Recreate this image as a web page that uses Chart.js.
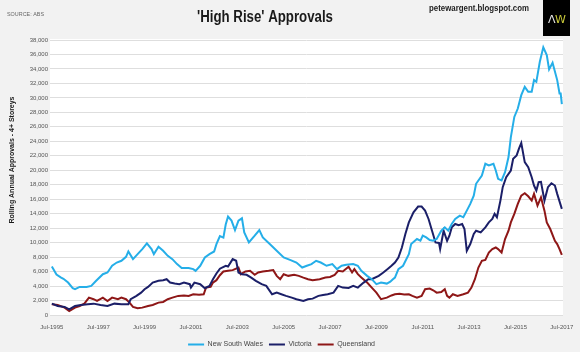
<!DOCTYPE html>
<html>
<head>
<meta charset="utf-8">
<script src="https://cdn.jsdelivr.net/npm/chart.js@4"></script>
<style>
  html, body { margin: 0; padding: 0; background: #f2f2f2; }
  #wrap { width: 580px; height: 352px; }
</style>
</head>
<body>
<div id="wrap"><canvas id="grafikas" width="580" height="352"></canvas></div>
<script>
// Duomenys nuskaityti nuo paveiksliuko (metai kaip dešimtainė trupmena)
const nswYears = [1995.5, 1995.7, 1995.9, 1996.0, 1996.2, 1996.4, 1996.5, 1996.7, 1997.0, 1997.2, 1997.4, 1997.7, 1997.9, 1998.1, 1998.3, 1998.5, 1998.7, 1998.8, 1999.0, 1999.2, 1999.4, 1999.6, 1999.8, 1999.9, 2000.1, 2000.3, 2000.5, 2000.7, 2000.9, 2001.1, 2001.4, 2001.6, 2001.7, 2001.9, 2002.1, 2002.3, 2002.5, 2002.6, 2002.75, 2002.9, 2003.0, 2003.1, 2003.25, 2003.4, 2003.55, 2003.7, 2003.8, 2004.0, 2004.25, 2004.45, 2004.6, 2004.9, 2005.2, 2005.5, 2005.8, 2006.05, 2006.3, 2006.5, 2006.7, 2006.9, 2007.1, 2007.35, 2007.6, 2007.8, 2008.0, 2008.2, 2008.5, 2008.7, 2008.85, 2009.1, 2009.3, 2009.5, 2009.7, 2009.95, 2010.1, 2010.2, 2010.3, 2010.45, 2010.65, 2010.9, 2011.0, 2011.25, 2011.4, 2011.5, 2011.65, 2011.8, 2011.95, 2012.1, 2012.3, 2012.45, 2012.6, 2012.75, 2012.9, 2013.1, 2013.25, 2013.4, 2013.55, 2013.7, 2013.8, 2014.05, 2014.2, 2014.35, 2014.55, 2014.65, 2014.75, 2014.9, 2015.05, 2015.2, 2015.3, 2015.45, 2015.6, 2015.75, 2015.9, 2016.05, 2016.2, 2016.3, 2016.4, 2016.55, 2016.7, 2016.85, 2016.95, 2017.1, 2017.3, 2017.4, 2017.45, 2017.5];
const nswValues = [6700, 5600, 5170, 5000, 4480, 3700, 3560, 3880, 3880, 4020, 4700, 5640, 5870, 6800, 7250, 7490, 8040, 8780, 7720, 8410, 9110, 9890, 9110, 8410, 9430, 8880, 8180, 7720, 7030, 6480, 6480, 6340, 6100, 6800, 7950, 8410, 8780, 9800, 10900, 10700, 12500, 13590, 13040, 11740, 13040, 13360, 11410, 10030, 10960, 11740, 10720, 9800, 8880, 7950, 7590, 7250, 6560, 6800, 7030, 7490, 7250, 6800, 7030, 6340, 6800, 6930, 7030, 6800, 6100, 5410, 4950, 4260, 4480, 4340, 4600, 4900, 5170, 6340, 6800, 8410, 9800, 10500, 10260, 10960, 10720, 10360, 10260, 10500, 11650, 12110, 11650, 12580, 13270, 13730, 13500, 14420, 15350, 16500, 18130, 19280, 20900, 20670, 20900, 19970, 18820, 18590, 19740, 21820, 24590, 27370, 28530, 30380, 31530, 30840, 30840, 32460, 32220, 34990, 36990, 35920, 33940, 34860, 32460, 30610, 30600, 29130];

const vicYears = [1995.5, 1995.75, 1996.05, 1996.25, 1996.5, 1996.75, 1997.05, 1997.3, 1997.6, 1997.9, 1998.2, 1998.5, 1998.8, 1998.9, 1999.15, 1999.35, 1999.5, 1999.65, 1999.85, 2000.1, 2000.3, 2000.45, 2000.6, 2000.8, 2001.0, 2001.2, 2001.45, 2001.5, 2001.65, 2001.9, 2002.1, 2002.3, 2002.45, 2002.6, 2002.75, 2003.0, 2003.1, 2003.3, 2003.45, 2003.55, 2003.7, 2003.9, 2004.1, 2004.3, 2004.55, 2004.75, 2005.0, 2005.2, 2005.4, 2005.6, 2005.85, 2006.05, 2006.35, 2006.55, 2006.75, 2007.0, 2007.2, 2007.4, 2007.65, 2007.85, 2008.05, 2008.3, 2008.5, 2008.7, 2008.95, 2009.15, 2009.3, 2009.6, 2009.8, 2010.0, 2010.15, 2010.3, 2010.45, 2010.6, 2010.75, 2010.9, 2011.1, 2011.3, 2011.45, 2011.6, 2011.75, 2011.9, 2012.05, 2012.2, 2012.25, 2012.4, 2012.55, 2012.65, 2012.75, 2012.9, 2013.05, 2013.2, 2013.3, 2013.4, 2013.55, 2013.7, 2013.8, 2014.0, 2014.2, 2014.35, 2014.5, 2014.6, 2014.7, 2014.85, 2014.95, 2015.1, 2015.3, 2015.4, 2015.55, 2015.65, 2015.75, 2015.9, 2016.05, 2016.2, 2016.3, 2016.4, 2016.5, 2016.6, 2016.75, 2016.9, 2017.05, 2017.2, 2017.3, 2017.5];
const vicValues = [1570, 1250, 1110, 790, 1250, 1390, 1480, 1570, 1390, 1250, 1570, 1480, 1480, 2180, 2640, 3090, 3560, 3880, 4480, 4720, 4810, 4950, 4480, 4340, 4260, 4480, 4260, 3790, 4480, 4260, 3700, 4020, 4950, 5730, 6400, 6800, 6700, 7720, 7490, 5870, 5640, 5550, 5170, 4720, 4260, 4020, 2870, 3090, 2870, 2640, 2400, 2180, 1940, 2180, 2260, 2640, 2770, 2870, 3090, 4020, 3790, 3740, 4020, 3790, 4480, 4950, 4950, 5410, 5870, 6400, 6800, 7250, 7950, 9330, 11190, 12800, 14190, 14980, 14980, 14420, 13270, 11650, 10030, 9960, 9110, 11650, 10260, 10960, 12110, 12580, 12400, 12580, 11880, 8880, 9800, 11190, 11650, 11410, 12110, 12800, 13270, 13970, 13500, 15810, 17660, 19040, 19970, 21600, 22050, 22980, 23760, 21130, 20430, 19040, 17890, 17200, 18350, 18400, 15810, 17660, 18210, 17890, 16740, 14660];

const qldYears = [1995.5, 1995.75, 1996.05, 1996.25, 1996.5, 1996.7, 1996.9, 1997.1, 1997.3, 1997.45, 1997.7, 1997.9, 1998.1, 1998.35, 1998.5, 1998.7, 1998.85, 1999.0, 1999.2, 1999.4, 1999.65, 1999.85, 2000.1, 2000.3, 2000.5, 2000.7, 2000.95, 2001.2, 2001.4, 2001.6, 2001.85, 2002.05, 2002.15, 2002.35, 2002.45, 2002.6, 2002.75, 2002.9, 2003.1, 2003.3, 2003.55, 2003.65, 2003.85, 2004.05, 2004.25, 2004.4, 2004.6, 2004.85, 2005.05, 2005.2, 2005.35, 2005.5, 2005.7, 2005.95, 2006.15, 2006.35, 2006.55, 2006.75, 2007.05, 2007.3, 2007.5, 2007.7, 2007.85, 2008.05, 2008.3, 2008.45, 2008.55, 2008.7, 2008.85, 2009.1, 2009.3, 2009.5, 2009.7, 2009.95, 2010.15, 2010.3, 2010.5, 2010.7, 2010.9, 2011.05, 2011.25, 2011.45, 2011.6, 2011.8, 2011.95, 2012.1, 2012.3, 2012.45, 2012.55, 2012.65, 2012.8, 2013.0, 2013.25, 2013.45, 2013.6, 2013.75, 2013.9, 2014.05, 2014.2, 2014.35, 2014.5, 2014.65, 2014.75, 2014.9, 2015.05, 2015.2, 2015.3, 2015.45, 2015.6, 2015.75, 2015.9, 2016.05, 2016.2, 2016.3, 2016.45, 2016.6, 2016.75, 2016.85, 2017.0, 2017.2, 2017.3, 2017.4, 2017.5];
const qldValues = [1480, 1390, 1020, 550, 1020, 1250, 1570, 2400, 2180, 1940, 2400, 1940, 2400, 2180, 2400, 2180, 1710, 1110, 930, 1020, 1250, 1390, 1710, 1800, 2180, 2400, 2640, 2700, 2640, 2870, 2800, 2870, 3790, 3880, 4480, 4810, 5500, 6010, 6100, 6200, 6560, 5640, 6010, 6100, 5550, 5870, 6010, 6100, 6200, 5410, 4950, 5640, 5410, 5550, 5410, 5170, 4950, 4810, 4950, 5170, 5250, 5550, 6100, 6010, 6660, 5870, 6340, 5640, 5170, 4480, 3790, 3090, 2180, 2400, 2700, 2870, 2950, 2850, 2870, 2640, 2400, 2640, 3560, 3650, 3420, 3090, 3170, 3560, 2640, 2400, 2870, 2640, 2870, 3090, 3790, 4950, 6560, 7490, 7600, 8640, 9110, 9330, 9110, 8640, 10500, 11650, 12800, 13970, 15350, 16500, 16830, 16400, 15810, 16740, 15120, 16270, 14420, 12800, 11880, 10260, 9800, 9110, 8320];

const xTickYears = [1995.5, 1997.5, 1999.5, 2001.5, 2003.5, 2005.5, 2007.5, 2009.5, 2011.5, 2013.5, 2015.5, 2017.5];
const xTickLabels = ['Jul-1995', 'Jul-1997', 'Jul-1999', 'Jul-2001', 'Jul-2003', 'Jul-2005', 'Jul-2007', 'Jul-2009', 'Jul-2011', 'Jul-2013', 'Jul-2015', 'Jul-2017'];
const yMax = 38000;
const yStep = 2000;

// Sudedame metus ir reikšmes į taškus
function taskai(metai, reiksmes) {
    return metai.map((m, i) => ({ x: m, y: reiksmes[i] }));
}

// Fonas, baltas grafiko plotas ir užrašai aplink
const fonoPluginas = {
    id: 'fonas',
    beforeDraw(chart) {
        const ctx = chart.ctx;
        const a = chart.chartArea;
        ctx.save();
        ctx.fillStyle = '#f2f2f2';
        ctx.fillRect(0, 0, chart.width, chart.height);
        ctx.fillStyle = '#ffffff';
        ctx.fillRect(a.left, a.top - 1, a.right - a.left, a.bottom - a.top + 2);
        ctx.restore();
    },
    afterDraw(chart) {
        const ctx = chart.ctx;
        ctx.save();
        ctx.textBaseline = 'middle';

        // Pavadinimas
        ctx.fillStyle = '#1a1a1a';
        ctx.font = 'bold 16px "Liberation Sans", Arial, sans-serif';
        ctx.textAlign = 'center';
        ctx.fillText("'High Rise' Approvals", 265, 18, 136);

        // Šaltinis
        ctx.fillStyle = '#666';
        ctx.font = '5.5px "Liberation Sans", Arial, sans-serif';
        ctx.textAlign = 'left';
        ctx.fillText('SOURCE: ABS', 7, 14, 37);

        // Tinklaraštis
        ctx.fillStyle = '#222';
        ctx.font = 'bold 9px "Liberation Sans", Arial, sans-serif';
        ctx.fillText('petewargent.blogspot.com', 429, 9, 100);

        // AW logotipas
        ctx.fillStyle = '#000';
        ctx.fillRect(543, 0, 27, 36);
        ctx.font = '11px "DejaVu Sans", sans-serif';
        ctx.fillStyle = '#e8e8e8';
        ctx.fillText('Λ', 548, 20);
        ctx.fillStyle = '#c9c93a';
        ctx.fillText('W', 555, 20);

        // Y ašies pavadinimas
        ctx.translate(12, 160);
        ctx.rotate(-Math.PI / 2);
        ctx.textAlign = 'center';
        ctx.fillStyle = '#1a1a1a';
        ctx.font = 'bold 7px "Liberation Sans", Arial, sans-serif';
        ctx.fillText('Rolling Annual Approvals - 4+ Storeys', 0, 0, 127);
        ctx.restore();
    }
};

const ctx = document.getElementById('grafikas').getContext('2d');
new Chart(ctx, {
    type: 'line',
    data: {
        datasets: [{
            label: 'New South Wales',
            data: taskai(nswYears, nswValues),
            borderColor: '#25aee8',
            backgroundColor: '#25aee8',
            borderWidth: 2
        }, {
            label: 'Victoria',
            data: taskai(vicYears, vicValues),
            borderColor: '#1b1f68',
            backgroundColor: '#1b1f68',
            borderWidth: 2
        }, {
            label: 'Queensland',
            data: taskai(qldYears, qldValues),
            borderColor: '#8e1717',
            backgroundColor: '#8e1717',
            borderWidth: 2
        }]
    },
    options: {
        responsive: false,
        animation: false,
        layout: { padding: { top: 40, right: 17, left: 0, bottom: -6 } },
        elements: {
            line: { tension: 0 },
            point: { radius: 0 }
        },
        scales: {
            x: {
                type: 'linear',
                min: 1995.42,
                max: 2017.55,
                grid: { display: false },
                border: { display: false },
                afterBuildTicks: scale => {
                    scale.ticks = xTickYears.map(v => ({ value: v }));
                },
                afterFit: scale => { scale.height = 20; },
                ticks: {
                    autoSkip: false,
                    maxRotation: 0,
                    padding: 1,
                    color: '#555',
                    font: { size: 6, family: '"Liberation Sans", Arial, sans-serif' },
                    callback: (value, index) => xTickLabels[index]
                }
            },
            y: {
                min: 0,
                max: yMax,
                grid: { color: '#dedede', lineWidth: 1, drawTicks: false },
                border: { display: false },
                afterFit: scale => { scale.width = 50; },
                ticks: {
                    stepSize: yStep,
                    padding: 2,
                    color: '#555',
                    font: { size: 6, family: '"Liberation Sans", Arial, sans-serif' },
                    callback: value => value.toLocaleString('en-US')
                }
            }
        },
        plugins: {
            legend: {
                position: 'bottom',
                labels: {
                    usePointStyle: true,
                    pointStyle: 'line',
                    pointStyleWidth: 16,
                    boxWidth: 16,
                    padding: 6,
                    color: '#444',
                    font: { size: 7, family: '"Liberation Sans", Arial, sans-serif' }
                }
            },
            tooltip: { enabled: false }
        }
    },
    plugins: [fonoPluginas]
});
</script>
</body>
</html>
